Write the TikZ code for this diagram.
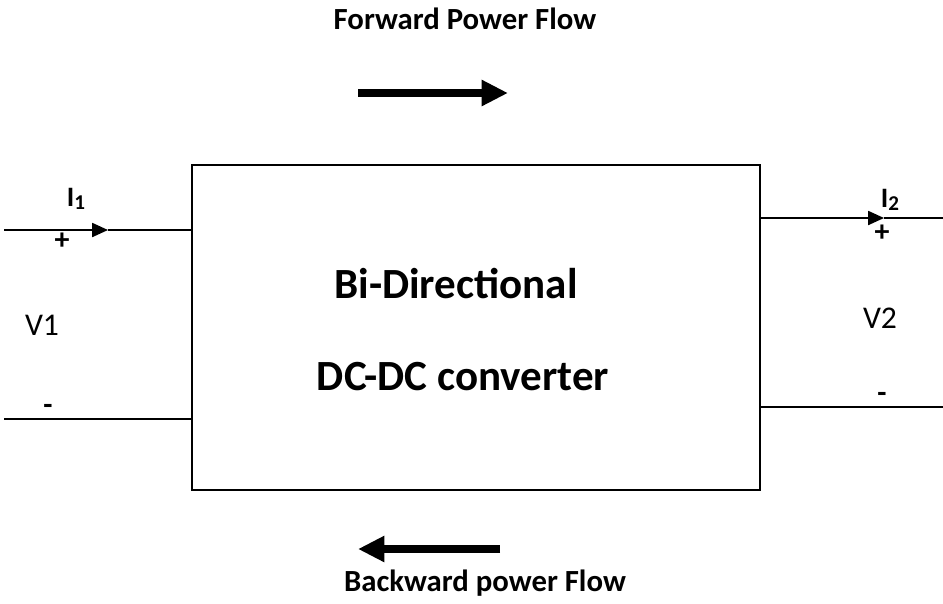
\documentclass[tikz,border=0pt]{standalone}
\usepackage{fontspec}
\setmainfont{Carlito}
\usetikzlibrary{arrows.meta}

\begin{document}
\begin{tikzpicture}[x=0.02cm, y=-0.02cm,
	wire/.style={line width=0.9pt},
	flow/.style={line width=4.4pt, -{Triangle[length=15pt, width=14pt]}},
	curtip/.style={wire, -{Triangle[length=9pt, width=8pt]}},
	lbl/.style={inner sep=0pt, font=\fontsize{17}{18}\selectfont\bfseries}]
			%%%%% START %%%%%
			\useasboundingbox (0, 0) rectangle (943, 603);
			
			% converter block
			\node[draw, line width=1.1pt, minimum width=11.36cm, minimum height=6.5cm, inner sep=0pt] (conv) at (476, 327.5) {};
			\node[font=\fontsize{24.5}{28}\selectfont\bfseries] (bidir) at (456, 284) {Bi-Directional};
			\node[font=\fontsize{24.5}{28}\selectfont\bfseries] (dcdc) at (463, 377) {DC-DC converter};
			
			% power flow arrows and titles
			\node[font=\fontsize{17.5}{20}\selectfont\bfseries] (fwdtxt) at (465, 19) {Forward Power Flow};
			\coordinate (fwda) at (358, 93);
			\coordinate (fwdb) at (508, 93);
			\draw[flow] (fwda) -- (fwdb);
			
			\node[font=\fontsize{17.5}{20}\selectfont\bfseries] (bwdtxt) at (485, 583) {Backward power Flow};
			\coordinate (bwda) at (500, 549);
			\coordinate (bwdb) at (358, 549);
			\draw[flow] (bwda) -- (bwdb);
			
			% port 1
			\coordinate (p1top) at (4, 230);
			\coordinate (p1bot) at (4, 419);
			\coordinate (i1tip) at (108, 230);
			\draw[curtip] (p1top) -- (i1tip);
			\draw[wire] (i1tip) -- (conv.west |- p1top);
			\draw[wire] (p1bot) -- (conv.west |- p1bot);
			\node[lbl, font=\fontsize{16}{18}\selectfont\bfseries] (i1) at (76, 199) {I\raisebox{-0.25ex}{\fontsize{12}{12}\selectfont 1}};
			\node[lbl] (plus1) at (62, 241) {+};
			\node[lbl, font=\fontsize{18}{20}\selectfont] (v1) at (42, 325) {V1};
			\node[lbl] (minus1) at (48, 409) {-};
			
			% port 2
			\coordinate (p2top) at (943, 218);
			\coordinate (p2bot) at (943, 407);
			\coordinate (i2tip) at (884, 218);
			\draw[curtip] (conv.east |- p2top) -- (i2tip);
			\draw[wire] (i2tip) -- (p2top);
			\draw[wire] (conv.east |- p2bot) -- (p2bot);
			\node[lbl, font=\fontsize{16}{18}\selectfont\bfseries] (i2) at (890, 200) {I\raisebox{-0.25ex}{\fontsize{12}{12}\selectfont 2}};
			\node[lbl] (plus2) at (882, 233) {+};
			\node[lbl, font=\fontsize{18}{20}\selectfont] (v2) at (880, 318) {V2};
			\node[lbl] (minus2) at (882, 397) {-};
			%%%%% END %%%%%
\end{tikzpicture}
\end{document}
